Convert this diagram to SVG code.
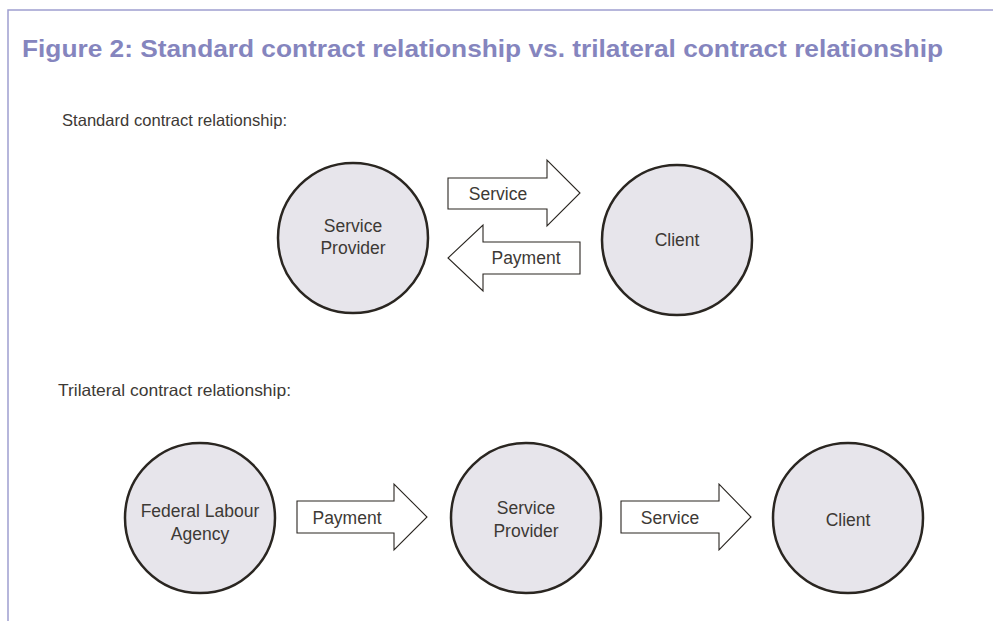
<svg xmlns="http://www.w3.org/2000/svg" width="993" height="621" viewBox="0 0 993 621">
<style>
.frame{fill:none;stroke:#9f9fd0;stroke-width:1.5}
.title{font-family:"Liberation Sans",Arial,sans-serif;font-weight:bold;font-size:24px;fill:#8585be}
.sub{font-family:"Liberation Sans",Arial,sans-serif;font-size:16.5px;fill:#3d3935}
.node{fill:#e7e5eb;stroke:#2a2621;stroke-width:2.5}
.lbl{font-family:"Liberation Sans",Arial,sans-serif;font-size:17.5px;fill:#3d3935;text-anchor:middle}
.arrow{fill:#ffffff;stroke:#2a2621;stroke-width:1.1;stroke-linejoin:miter}
</style>
<rect width="993" height="621" fill="#ffffff"/>
<path class="frame" d="M993,10 H8 V621"/>
<text class="title" x="22" y="57" textLength="921" lengthAdjust="spacingAndGlyphs">Figure 2: Standard contract relationship vs. trilateral contract relationship</text>
<text class="sub" x="62" y="126" textLength="225" lengthAdjust="spacingAndGlyphs">Standard contract relationship:</text>
<text class="sub" x="58" y="396" textLength="233" lengthAdjust="spacingAndGlyphs">Trilateral contract relationship:</text>

<g id="connectors">
  <g id="std-service">
    <polygon class="arrow" points="448,178 547,178 547,160 580,193 547,226 547,209 448,209"/>
    <text class="lbl" x="498" y="200">Service</text>
  </g>
  <g id="std-payment">
    <polygon class="arrow" points="580,242 483,242 483,225 448,258 483,291 483,274 580,274"/>
    <text class="lbl" x="526" y="264">Payment</text>
  </g>
  <g id="tri-payment">
    <polygon class="arrow" points="297,501 394,501 394,484 427,517 394,550 394,533 297,533"/>
    <text class="lbl" x="347" y="524">Payment</text>
  </g>
  <g id="tri-service">
    <polygon class="arrow" points="621,501 719,501 719,484 751,517 719,550 719,533 621,533"/>
    <text class="lbl" x="670" y="524">Service</text>
  </g>
</g>

<g id="std-provider">
  <circle class="node" cx="353" cy="238" r="75"/>
  <text class="lbl" x="353" y="232">Service</text>
  <text class="lbl" x="353" y="254">Provider</text>
</g>
<g id="std-client">
  <circle class="node" cx="677" cy="240" r="75"/>
  <text class="lbl" x="677" y="246">Client</text>
</g>
<g id="tri-agency">
  <circle class="node" cx="200" cy="518" r="75"/>
  <text class="lbl" x="200" y="517">Federal Labour</text>
  <text class="lbl" x="200" y="540">Agency</text>
</g>
<g id="tri-provider">
  <circle class="node" cx="526" cy="518" r="75"/>
  <text class="lbl" x="526" y="514">Service</text>
  <text class="lbl" x="526" y="537">Provider</text>
</g>
<g id="tri-client">
  <circle class="node" cx="848" cy="518" r="75"/>
  <text class="lbl" x="848" y="526">Client</text>
</g>
</svg>
